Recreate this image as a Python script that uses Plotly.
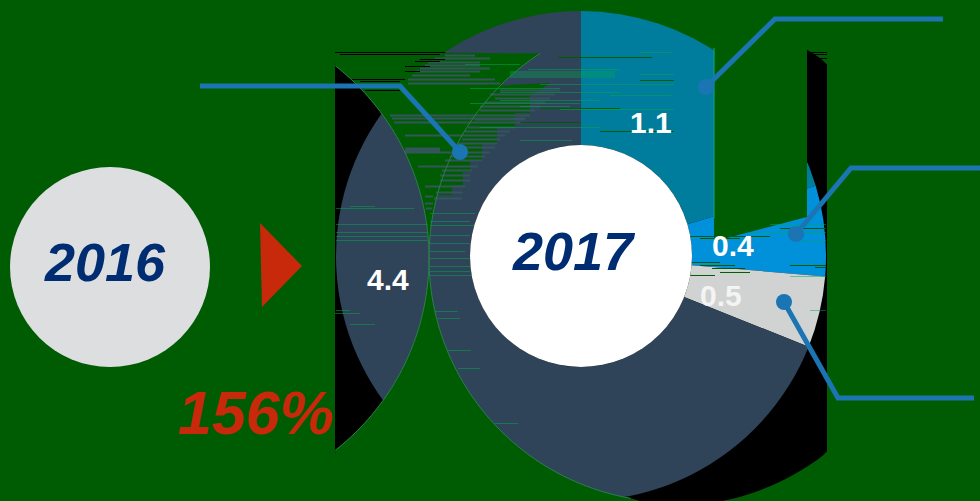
import numpy as np
import plotly.graph_objects as go

slice_names = ['Teal', 'Blue', 'Grey', 'Navy']
slice_values = [1.30, 0.38, 0.30, 4.40]
slice_labels = ['1.1', '0.4', '0.5', '4.4']
slice_colors = ['#007d9c', '#0091da', '#d0d3d2', '#2f4458']

W, H = 980, 501
GREEN = '#005c02'
BLUE_LINE = '#1a75b2'
NAVY = '#002d72'
RED = '#c8290a'

# streaks of the broken rendering: y, x0, x1
light_streaks = [
    (52, 640, 672), (64, 465, 520), (69, 528, 620),
    (74, 640, 674), (84, 540, 674), (88, 470, 560),
    (92, 500, 620), (95, 610, 672), (100, 500, 600), (103, 470, 580), (106, 520, 570),
    (109, 560, 674), (127, 480, 600),
    (140, 520, 572), (213, 430, 475), (221, 430, 470), (225, 430, 490),
    (208, 336, 414), (224, 336, 428), (232, 336, 428), (236, 336, 428), (240, 336, 428), (235, 430, 470),
    (243, 430, 470), (251, 430, 465), (258, 430, 472), (266, 430, 470), (271, 430, 470), (275, 430, 472),
    (206, 350, 375), (310, 336, 350), (313, 335, 360), (324, 350, 375), (311, 435, 458), (318, 438, 460),
    (350, 448, 471), (368, 458, 480), (423, 495, 518), (240, 800, 826), (232, 750, 826), (224, 770, 826),
    (310, 810, 826), (276, 790, 826),
]
dark_streaks = [
    (57, 558, 652), (62, 490, 520), (80, 640, 674), (108, 540, 620), (122, 520, 580), (131, 600, 674),
    (236, 690, 770), (238, 700, 740), (262, 692, 720), (265, 700, 735), (268, 712, 745), (272, 720, 750),
    (275, 690, 715), (265, 790, 826), (267, 815, 826), (228, 780, 826),
]
black_streaks = [
    (52, 335, 445), (54, 340, 440), (59, 420, 445), (61, 415, 440), (66, 405, 430), (71, 405, 420),
    (79, 345, 405), (81, 360, 400), (90, 365, 400), (52, 807, 827), (54, 810, 827), (58, 815, 827),
]
# ring showing through the cut-outs
navy_streaks = [
    (55, 445, 475), (58, 435, 490), (62, 428, 480), (65, 425, 480), (68, 420, 490), (71, 415, 480),
    (75, 412, 470), (79, 408, 495), (83, 408, 500), (90, 500, 560), (94, 490, 555), (98, 495, 550),
    (102, 485, 545), (106, 480, 540), (110, 480, 535), (115, 390, 530), (118, 392, 525), (119, 475, 525),
    (122, 394, 522), (127, 468, 515), (131, 465, 510), (135, 405, 505), (139, 462, 500), (143, 458, 497),
    (147, 455, 495), (148, 405, 440), (150, 405, 440), (152, 405, 490), (156, 450, 485), (160, 445, 482),
    (166, 418, 478), (170, 442, 472), (175, 440, 470), (180, 440, 470), (186, 425, 465), (192, 436, 463),
    (196, 425, 433), (198, 434, 462), (203, 425, 433), (208, 426, 432),
]


def px(x):
    return x / W


def py(y):
    return 1 - y / H


def path_from(xs, ys, close=True):
    parts = [f'{"M" if i == 0 else "L"}{px(x):.5f},{py(y):.5f}' for i, (x, y) in enumerate(zip(xs, ys))]
    return ' '.join(parts) + (' Z' if close else '')


def arc(cx, cy, r, a0, a1, n=90):
    t = np.radians(np.linspace(a0, a1, n))
    return cx + r * np.cos(t), cy + r * np.sin(t)


def poly(xs, ys, color):
    return dict(type='path', path=path_from(xs, ys), xref='paper', yref='paper',
                fillcolor=color, line=dict(width=0), layer='above')


def streak_shape(rows, color, width=1):
    segs = [f'M{px(a):.5f},{py(y + 0.5):.5f} L{px(b):.5f},{py(y + 0.5):.5f}' for y, a, b in rows]
    return dict(type='path', path=' '.join(segs), xref='paper', yref='paper',
                line=dict(color=color, width=width), layer='above')


def circle(cx, cy, r, color, layer='above'):
    return dict(type='circle', xref='paper', yref='paper', x0=px(cx - r), x1=px(cx + r),
                y0=py(cy + r), y1=py(cy - r), fillcolor=color, line=dict(width=0), layer=layer)


def leader(xs, ys):
    return dict(type='path', path=path_from(xs, ys, close=False), xref='paper', yref='paper',
                line=dict(color=BLUE_LINE, width=5), layer='above')


fig = go.Figure()
fig.add_trace(go.Pie(
    labels=slice_names, values=slice_values, hole=111 / 245, sort=False,
    direction='clockwise', rotation=0, textinfo='none', hoverinfo='skip',
    marker=dict(colors=slice_colors, line=dict(width=0)),
    domain=dict(x=[336 / W, 826 / W], y=[0, 490 / H]),
))

shapes = []

# black lobes behind the ring
lx, ly = arc(185, 258, 244, -90, 90)
rx2, ry2 = arc(673, 258, 248, 0, 360, 240)
shapes.append(dict(poly(np.clip(lx, 335, None), np.clip(ly, 50, None), '#000000'), layer='below'))
shapes.append(dict(poly(np.clip(rx2, None, 827), np.clip(ry2, 50, None), '#000000'), layer='below'))

# green cut-outs over the ring
la, lb = arc(185, 258, 244, 0, -52)     # left arc, cusp up to the corner
ra, rb = arc(673, 258, 244, 237, 180)   # right arc, top down to the cusp
shapes.append(poly(np.r_[la, 335, ra], np.r_[lb, 52, rb], GREEN))
la2, lb2 = arc(185, 258, 244, 0, 52)
ra2, rb2 = arc(673, 258, 244, 180, 100)
shapes.append(poly(np.r_[la2, 335, 640, ra2[::-1]], np.r_[lb2, 501, 501, rb2[::-1]], GREEN))
shapes.append(poly([714, 807, 807, 727, 714], [0, 0, 217, 238, 242], GREEN))
wa, wb = arc(673, 258, 244, 225, 195)
shapes.append(poly(np.r_[wa, 452, 452, 463, 463, 470, 470, 482, 482, 497, 497, 515, 515, 530, 530, 550],
                   np.r_[wb, 195, 185, 185, 172, 172, 160, 160, 143, 143, 128, 128, 113, 113, 96, 83], GREEN))

# streaks and the faint outlines
shapes.append(dict(type='path', path=path_from([510, 615, 615, 510], [71, 71, 78, 78]),
                   xref='paper', yref='paper', fillcolor='rgba(0,170,80,0.35)', line=dict(width=0), layer='above'))
shapes.append(streak_shape(navy_streaks, '#34555a', 2))
shapes.append(streak_shape(light_streaks, 'rgba(0,170,80,0.5)'))
shapes.append(streak_shape(dark_streaks, GREEN))
shapes.append(streak_shape(black_streaks, '#000000'))
for a, b in [arc(185, 258, 244, -52, 52), arc(673, 258, 244, 100, 237)]:
    shapes.append(dict(type='path', path=path_from(a, b, close=False), xref='paper', yref='paper',
                       line=dict(color='#2e7d50', width=1), layer='above'))
shapes.append(dict(type='line', xref='paper', yref='paper', x0=px(714), x1=px(714), y0=py(48), y1=py(218),
                   line=dict(color='#12a58c', width=1), layer='above'))

shapes.append(circle(581, 256, 111, '#ffffff'))
shapes.append(circle(110, 267, 100, '#dcdee0'))
shapes.append(poly([260, 302, 262], [223, 266, 307], RED))

# leader lines
shapes.append(leader([200, 400, 460], [86, 86, 152]))
shapes.append(leader([706, 775, 943], [87, 19, 19]))
shapes.append(leader([796, 851, 980], [234, 168, 168]))
shapes.append(leader([784, 838, 974], [302, 398, 398]))
for cx, cy in [(460, 152), (706, 87), (796, 234), (784, 302)]:
    shapes.append(circle(cx, cy, 8, BLUE_LINE))


def label(text, x, y, size, color, italic=False):
    body = f'<b><i>{text}</i></b>' if italic else f'<b>{text}</b>'
    return dict(text=body, x=px(x), y=py(y), xref='paper', yref='paper', showarrow=False,
                xanchor='center', yanchor='middle',
                font=dict(family='Liberation Sans', size=size, color=color))


annotations = [
    label('2016', 105, 262, 54, NAVY, True),
    label('2017', 574, 251, 54, NAVY, True),
    label('156%', 256, 413, 61, RED, True),
    label(slice_labels[0], 651, 122, 30, '#ffffff'),
    label(slice_labels[1], 733, 245, 30, '#ffffff'),
    label(slice_labels[2], 721, 295, 30, '#f4f4f4'),
    label(slice_labels[3], 388, 279, 30, '#ffffff'),
]

fig.update_layout(width=W, height=H, margin=dict(l=0, r=0, t=0, b=0), showlegend=False,
                  paper_bgcolor=GREEN, plot_bgcolor=GREEN, shapes=shapes, annotations=annotations)

# the page has a default body margin that would shift the chart
fig.write_html("out.html", config=dict(displayModeBar=False),
               post_script="document.body.style.margin='0';document.body.style.overflow='hidden';")
